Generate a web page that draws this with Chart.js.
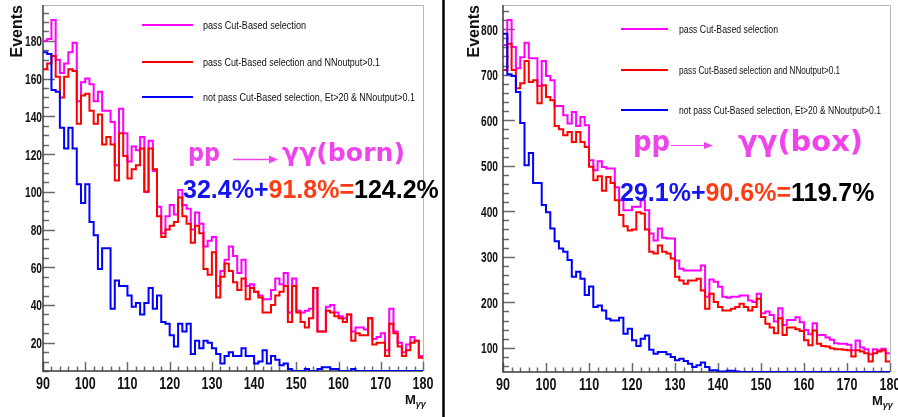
<!DOCTYPE html>
<html>
<head>
<meta charset="utf-8">
<script src="https://cdn.jsdelivr.net/npm/chart.js@4"></script>
<style>
  body { margin: 0; background: #fff; }
  #page { position: relative; width: 898px; height: 417px; overflow: hidden; }
  canvas { position: absolute; top: 0; }
  #leftChart { left: 0; }
  #rightChart { left: 445px; }
  svg { position: absolute; left: 0; top: 0; }
</style>
</head>
<body>
<div id="page">
  <canvas id="leftChart" width="443" height="417"></canvas>
  <canvas id="rightChart" width="453" height="417"></canvas>
  <svg width="898" height="417" xmlns="http://www.w3.org/2000/svg">
    <line x1="443.5" y1="0" x2="443.5" y2="417" stroke="#000" stroke-width="2.5"/>

    <!-- left panel texts -->
    <text transform="translate(22,5) rotate(-90)" text-anchor="end" font-family="Liberation Sans, Arial, sans-serif" font-weight="bold" font-size="16" fill="#111">Events</text>
    <text x="405" y="404" font-family="Liberation Sans, Arial, sans-serif" font-weight="bold" font-size="13" fill="#111">M<tspan font-size="9" font-style="italic" dy="3">γγ</tspan></text>
    <g font-family="Liberation Sans, Arial, sans-serif" font-size="11.5" fill="#111">
      <line x1="142" y1="25" x2="193" y2="25" stroke="#ff00ff" stroke-width="2"/>
      <text x="203" y="29" textLength="103" lengthAdjust="spacingAndGlyphs">pass Cut-Based selection</text>
      <line x1="142" y1="62" x2="193" y2="62" stroke="#ff0000" stroke-width="2"/>
      <text x="203" y="66" textLength="177" lengthAdjust="spacingAndGlyphs">pass Cut-Based selection and NNoutput&gt;0.1</text>
      <line x1="142" y1="97" x2="193" y2="97" stroke="#0000ff" stroke-width="2"/>
      <text x="203" y="101" textLength="212" lengthAdjust="spacingAndGlyphs">not pass Cut-Based selection, Et&gt;20 &amp; NNoutput&gt;0.1</text>
    </g>
    <text x="188" y="161" font-family="DejaVu Sans, sans-serif" font-weight="bold" font-size="24" fill="#f043ec" textLength="32" lengthAdjust="spacingAndGlyphs">pp</text>
    <line x1="233" y1="159.5" x2="271" y2="159.5" stroke="#f043ec" stroke-width="1.5"/>
    <polygon points="269,155.5 278,159.5 269,163.5" fill="#f043ec"/>
    <text x="282" y="161" font-family="DejaVu Sans, sans-serif" font-weight="bold" font-size="25" fill="#f043ec" textLength="123" lengthAdjust="spacingAndGlyphs">γγ(born)</text>
    <text x="183" y="198" font-family="Liberation Sans, Arial, sans-serif" font-weight="bold" font-size="25"><tspan fill="#1414f0">32.4%+</tspan><tspan fill="#ff3c14">91.8%=</tspan><tspan fill="#000">124.2%</tspan></text>

    <!-- right panel texts -->
    <text transform="translate(479,5) rotate(-90)" text-anchor="end" font-family="Liberation Sans, Arial, sans-serif" font-weight="bold" font-size="16" fill="#111">Events</text>
    <text x="872" y="405" font-family="Liberation Sans, Arial, sans-serif" font-weight="bold" font-size="13" fill="#111">M<tspan font-size="9" font-style="italic" dy="3">γγ</tspan></text>
    <g font-family="Liberation Sans, Arial, sans-serif" font-size="11.5" fill="#111">
      <line x1="621" y1="29" x2="668" y2="29" stroke="#ff00ff" stroke-width="2"/>
      <text x="679" y="33" textLength="99" lengthAdjust="spacingAndGlyphs">pass Cut-Based selection</text>
      <line x1="621" y1="70" x2="668" y2="70" stroke="#ff0000" stroke-width="2"/>
      <text x="679" y="74" textLength="161" lengthAdjust="spacingAndGlyphs">pass Cut-Based selection and NNoutput&gt;0.1</text>
      <line x1="621" y1="110" x2="668" y2="110" stroke="#0000ff" stroke-width="2"/>
      <text x="679" y="114" textLength="202" lengthAdjust="spacingAndGlyphs">not pass Cut-Based selection, Et&gt;20 &amp; NNoutput&gt;0.1</text>
    </g>
    <text x="633" y="151" font-family="DejaVu Sans, sans-serif" font-weight="bold" font-size="28" fill="#f043ec" textLength="37" lengthAdjust="spacingAndGlyphs">pp</text>
    <line x1="671" y1="145.5" x2="706" y2="145.5" stroke="#f043ec" stroke-width="1.2"/>
    <polygon points="704,142 713,145.5 704,149" fill="#f043ec"/>
    <text x="738" y="151" font-family="DejaVu Sans, sans-serif" font-weight="bold" font-size="28" fill="#f043ec" textLength="125" lengthAdjust="spacingAndGlyphs">γγ(box)</text>
    <text x="620" y="201" font-family="Liberation Sans, Arial, sans-serif" font-weight="bold" font-size="25"><tspan fill="#1414f0">29.1%+</tspan><tspan fill="#ff3c14">90.6%=</tspan><tspan fill="#000">119.7%</tspan></text>
  </svg>
</div>

<script>
// M_gamma-gamma histograms, 1 GeV bins from 90 to 180
var binLow = 90;
var binHigh = 180;
var xTicks = [90, 100, 110, 120, 130, 140, 150, 160, 170, 180];

// pp -> gamma gamma (born)
var bornCutBased = [180, 181, 191, 170, 163, 168, 174, 179, 148, 158, 160, 157, 148, 153, 143, 143, 137, 114, 144, 131,
  116, 124, 122, 129, 100, 127, 111, 92, 78, 87, 93, 88, 101, 93, 91, 80, 89, 83, 71, 74,
  76, 50, 58, 64, 71, 66, 57, 64, 50, 51, 47, 45, 43, 43, 48, 54, 51, 57, 36, 54,
  37, 36, 37, 38, 49, 26, 26, 39, 40, 36, 34, 33, 35, 26, 28, 28, 27, 33, 22, 23,
  25, 16, 38, 26, 20, 15, 19, 23, 21, 13];
var bornCutBasedNN = [165, 168, 172, 161, 150, 161, 165, 164, 136, 151, 152, 143, 136, 141, 125, 129, 125, 106, 131, 119,
  107, 112, 114, 123, 100, 123, 112, 87, 76, 80, 82, 84, 97, 87, 83, 73, 82, 78, 59, 56,
  68, 44, 55, 62, 58, 52, 48, 54, 43, 49, 47, 44, 36, 36, 40, 45, 47, 50, 31, 50,
  36, 31, 28, 33, 49, 26, 26, 37, 36, 34, 33, 31, 35, 21, 25, 24, 24, 33, 19, 20,
  20, 13, 30, 25, 18, 13, 16, 20, 21, 12];
var bornNotCutBased = [174, 173, 154, 153, 134, 123, 134, 123, 104, 94, 104, 84, 77, 59, 70, 70, 38, 53, 50, 50,
  45, 39, 41, 35, 41, 49, 38, 45, 31, 30, 24, 18, 30, 26, 30, 14, 21, 17, 21, 20,
  17, 14, 9, 13, 15, 13, 13, 17, 13, 13, 9, 10, 16, 9, 13, 11, 8, 9, 6, 5,
  5, 5, 6, 5, 5, 6, 7, 7, 6, 6, 5, 5, 5, 6, 5, 5, 5, 5, 5, 5,
  5, 5, 5, 5, 5, 5, 5, 5, 5, 5];
var bornYTicks = [20, 40, 60, 80, 100, 120, 140, 160, 180];

// pp -> gamma gamma (box)
var boxCutBased = [765, 820, 761, 714, 738, 770, 736, 736, 675, 730, 697, 688, 631, 631, 611, 593, 618, 587, 607, 589,
  512, 490, 510, 497, 494, 494, 453, 424, 402, 402, 410, 410, 424, 402, 351, 336, 362, 342, 340, 340,
  292, 274, 270, 270, 270, 270, 281, 212, 250, 245, 234, 212, 210, 212, 212, 215, 215, 204, 201, 219,
  176, 180, 172, 158, 187, 150, 161, 161, 167, 156, 139, 130, 154, 128, 128, 123, 118, 110, 109, 109,
  107, 95, 116, 101, 97, 86, 97, 95, 98, 88];
var boxCutBasedNN = [710, 768, 710, 670, 681, 730, 684, 688, 637, 677, 651, 644, 587, 580, 567, 574, 552, 574, 552, 541,
  498, 468, 477, 445, 475, 462, 424, 392, 367, 358, 360, 398, 395, 360, 311, 307, 325, 311, 307, 296,
  256, 248, 241, 248, 248, 252, 226, 186, 219, 201, 190, 182, 182, 186, 190, 197, 190, 182, 190, 208,
  168, 153, 145, 132, 165, 128, 145, 145, 141, 137, 117, 106, 138, 109, 104, 103, 99, 97, 97, 96,
  95, 81, 95, 92, 88, 70, 88, 92, 95, 70];
var boxNotCutBased = [790, 701, 697, 662, 594, 501, 528, 462, 462, 414, 398, 362, 334, 318, 311, 293, 256, 267, 252, 216,
  235, 190, 193, 182, 164, 160, 160, 166, 131, 142, 117, 104, 120, 127, 96, 87, 91, 91, 86, 80,
  73, 76, 71, 65, 58, 62, 68, 58, 51, 51, 48, 48, 50, 50, 48, 47, 47, 47, 47, 47,
  47, 47, 47, 47, 47, 47, 47, 47, 47, 47, 47, 47, 47, 47, 47, 47, 47, 47, 47, 47,
  47, 47, 47, 47, 47, 47, 47, 47, 47, 47];
var boxYTicks = [100, 200, 300, 400, 500, 600, 700, 800];

// histogram outline: one point per bin edge, last bin repeated at the upper edge
function histPoints(values) {
  var pts = [];
  var width = (binHigh - binLow) / values.length;
  for (var i = 0; i <= values.length; i++) {
    pts.push({x: binLow + i * width, y: values[Math.min(i, values.length - 1)]});
  }
  return pts;
}

// squeezed bold labels, like the condensed ROOT axis font
function squeezedText(ctx, text, x, y, size, sx, align) {
  ctx.save();
  ctx.translate(x, y);
  ctx.scale(sx, 1);
  ctx.font = 'bold ' + size + 'px "Liberation Sans", Arial, sans-serif';
  ctx.fillStyle = '#111';
  ctx.textAlign = align;
  ctx.textBaseline = 'alphabetic';
  ctx.fillText(text, 0, 0);
  ctx.restore();
}

// ROOT-like frame: axes, light frame, ticks pointing inside, labels
var rootFrame = {
  id: 'rootFrame',
  beforeDatasetsDraw: function(chart, args, opts) {
    var ctx = chart.ctx, a = chart.chartArea;
    var xs = chart.scales.x, ys = chart.scales.y;
    ctx.save();
    ctx.strokeStyle = '#b4b8c6';
    ctx.lineWidth = 1;
    ctx.beginPath();
    ctx.moveTo(a.left, a.top + 0.5);
    ctx.lineTo(a.right + 0.5, a.top + 0.5);
    ctx.lineTo(a.right + 0.5, a.bottom);
    ctx.stroke();

    ctx.strokeStyle = '#6a6a6a';
    ctx.lineWidth = 1.5;
    var n, v, p, len;
    var first = Math.ceil(ys.min / opts.yMinor);
    for (n = first; n * opts.yMinor <= ys.max; n++) {
      v = n * opts.yMinor;
      p = Math.round(ys.getPixelForValue(v)) + 0.5;
      len = (v % opts.yMajor === 0) ? opts.yMajorLen : opts.yMajorLen / 2;
      ctx.beginPath();
      ctx.moveTo(a.left, p);
      ctx.lineTo(a.left + len, p);
      ctx.stroke();
    }
    for (n = Math.ceil(xs.min / 2); n * 2 <= xs.max; n++) {
      v = n * 2;
      p = Math.round(xs.getPixelForValue(v)) + 0.5;
      len = (v % 10 === 0) ? 9 : 4.5;
      ctx.beginPath();
      ctx.moveTo(p, a.bottom);
      ctx.lineTo(p, a.bottom - len);
      ctx.stroke();
    }

    ctx.strokeStyle = '#3c3c3c';
    ctx.lineWidth = 1.5;
    ctx.beginPath();
    ctx.moveTo(a.left, a.top);
    ctx.lineTo(a.left, a.bottom);
    ctx.lineTo(a.right, a.bottom);
    ctx.stroke();
    ctx.restore();

    ys.ticks.forEach(function(t) {
      squeezedText(ctx, String(t.value), a.left - opts.yPad, ys.getPixelForValue(t.value) + 5.5, 15, 0.68, 'right');
    });
    xs.ticks.forEach(function(t) {
      squeezedText(ctx, String(t.value), xs.getPixelForValue(t.value), a.bottom + 17.5, 16.5, 0.76, 'center');
    });
  }
};

function makePanel(id, cut, cutNN, notCut, yMin, yMax, yTicks, minorStep, frame) {
  return new Chart(document.getElementById(id), {
    type: 'line',
    data: {
      datasets: [
        {label: 'not pass Cut-Based selection, Et>20 & NNoutput>0.1', data: histPoints(notCut), borderColor: '#0000ff'},
        {label: 'pass Cut-Based selection and NNoutput>0.1', data: histPoints(cutNN), borderColor: '#ff0000'},
        {label: 'pass Cut-Based selection', data: histPoints(cut), borderColor: '#ff00ff'}
      ]
    },
    options: {
      responsive: false,
      animation: false,
      layout: {padding: {top: 5, right: frame.right, left: 0, bottom: 0}},
      datasets: {line: {stepped: true, borderWidth: 2, pointRadius: 0, fill: false, tension: 0}},
      plugins: {
        legend: {display: false},
        tooltip: {enabled: false},
        rootFrame: {yMinor: minorStep, yMajor: yTicks[1] - yTicks[0], yMajorLen: 12, yPad: frame.yPad}
      },
      scales: {
        x: {
          type: 'linear', min: binLow, max: binHigh,
          grid: {display: false, drawTicks: false},
          border: {display: false},
          ticks: {display: false},
          afterBuildTicks: function(s) { s.ticks = xTicks.map(function(v) { return {value: v}; }); },
          afterFit: function(s) { s.height = frame.xAxisHeight; }
        },
        y: {
          type: 'linear', min: yMin, max: yMax,
          grid: {display: false, drawTicks: false},
          border: {display: false},
          ticks: {display: false},
          afterBuildTicks: function(s) { s.ticks = yTicks.map(function(v) { return {value: v}; }); },
          afterFit: function(s) { s.width = frame.yAxisWidth; }
        }
      }
    },
    plugins: [rootFrame]
  });
}

makePanel('leftChart', bornCutBased, bornCutBasedNN, bornNotCutBased, 5, 199, bornYTicks, 5,
  {right: 20, xAxisHeight: 46, yAxisWidth: 43, yPad: 1});
makePanel('rightChart', boxCutBased, boxCutBasedNN, boxNotCutBased, 47, 853, boxYTicks, 20,
  {right: 8, xAxisHeight: 45, yAxisWidth: 58, yPad: 5});
</script>
</body>
</html>
